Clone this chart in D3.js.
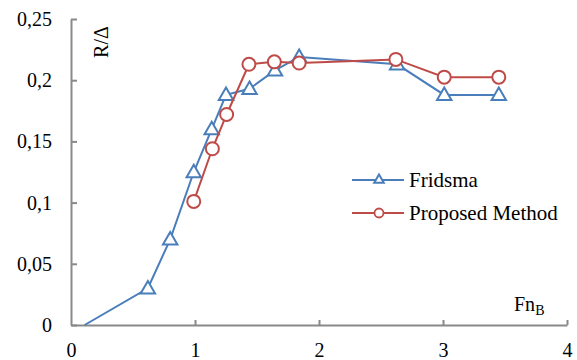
<!DOCTYPE html>
<html>
<head>
<meta charset="utf-8">
<script src="https://cdn.jsdelivr.net/npm/d3@7/dist/d3.min.js"></script>
<style>
  html, body { margin: 0; padding: 0; background: #fff; }
  svg { display: block; }
</style>
</head>
<body>
<svg id="chart" width="577" height="360" font-family="Liberation Serif"></svg>
<script>
// Resistance ratio R/Δ versus beam Froude number Fn_B
const fridsmaFn  = [0.11, 0.62, 0.80, 0.99, 1.135, 1.25, 1.44, 1.645, 1.84, 2.63, 3.01, 3.45];
const fridsmaR   = [0, 0.03, 0.07, 0.125, 0.16, 0.188, 0.193, 0.208, 0.219, 0.213, 0.188, 0.188];
const proposedFn = [0.99, 1.14, 1.255, 1.435, 1.64, 1.84, 2.62, 3.01, 3.45];
const proposedR  = [0.101, 0.144, 0.172, 0.213, 0.215, 0.214, 0.217, 0.2025, 0.2025];

const xTicks = [0, 1, 2, 3, 4];
const xTickLabels = ["0", "1", "2", "3", "4"];
const yTicks = [0, 0.05, 0.1, 0.15, 0.2, 0.25];
const yTickLabels = ["0", "0,05", "0,1", "0,15", "0,2", "0,25"];

const seriesNames = ["Fridsma", "Proposed Method"];
const seriesColors = ["#4a7ebb", "#be4b48"];

const serif = "Liberation Serif";

const svg = d3.select("#chart");
const x = d3.scaleLinear().domain([0, 4]).range([71, 567]);
const y = d3.scaleLinear().domain([0, 0.25]).range([325, 19]);

const axisColor = "#898989";

// Axes: ticks point into the plot area
const xAxis = d3.axisBottom(x)
  .tickValues(xTicks)
  .tickFormat((d, i) => xTickLabels[i])
  .tickSizeInner(-5).tickSizeOuter(0).tickPadding(18);
const gx = svg.append("g").attr("transform", `translate(0,${y(0)})`).call(xAxis);

const yAxis = d3.axisLeft(y)
  .tickValues(yTicks)
  .tickFormat((d, i) => yTickLabels[i])
  .tickSizeInner(-6).tickSizeOuter(0).tickPadding(19);
const gy = svg.append("g").attr("transform", `translate(${x(0)},0)`).call(yAxis);

[gx, gy].forEach(g => {
  g.attr("font-family", serif).attr("font-size", 20);
  g.select(".domain").attr("stroke", axisColor).attr("stroke-width", 2);
  g.selectAll(".tick line").attr("stroke", axisColor).attr("stroke-width", 2);
  g.selectAll(".tick text").attr("fill", "#000");
});
gx.selectAll(".tick").filter(d => d === 0).select("line").remove();

// Axis titles
svg.append("text")
  .attr("transform", "translate(108,42) rotate(-90)")
  .attr("text-anchor", "middle")
  .attr("font-family", serif)
  .attr("font-size", 20)
  .text("R/Δ");

const fnLabel = svg.append("text")
  .attr("x", 514).attr("y", 311)
  .attr("font-family", serif)
  .attr("font-size", 20);
fnLabel.append("tspan").text("Fn");
fnLabel.append("tspan").attr("font-size", 14).attr("dy", 4).text("B");

// Series
const line = d3.line().x(d => x(d[0])).y(d => y(d[1]));
const tri = d3.symbol().type(d3.symbolTriangle).size(90);

const fridsma = fridsmaFn.map((v, i) => [v, fridsmaR[i]]);
const proposed = proposedFn.map((v, i) => [v, proposedR[i]]);

const gF = svg.append("g");
gF.append("path").datum(fridsma)
  .attr("d", line).attr("fill", "none")
  .attr("stroke", seriesColors[0]).attr("stroke-width", 2);
gF.selectAll("path.mk").data(fridsma.filter(d => d[1] > 0)).enter().append("path")
  .attr("class", "mk")
  .attr("d", tri)
  .attr("transform", d => `translate(${x(d[0])},${y(d[1]) + 1})`)
  .attr("fill", "#fff").attr("stroke", seriesColors[0]).attr("stroke-width", 2);

const gP = svg.append("g");
gP.append("path").datum(proposed)
  .attr("d", line).attr("fill", "none")
  .attr("stroke", seriesColors[1]).attr("stroke-width", 2);
gP.selectAll("circle").data(proposed).enter().append("circle")
  .attr("cx", d => x(d[0])).attr("cy", d => y(d[1])).attr("r", 6.5)
  .attr("fill", "#fff").attr("stroke", seriesColors[1]).attr("stroke-width", 2);

// Legend
const legend = svg.append("g");
[180, 213].forEach((ly, i) => {
  legend.append("line")
    .attr("x1", 352).attr("x2", 404).attr("y1", ly).attr("y2", ly)
    .attr("stroke", seriesColors[i]).attr("stroke-width", 2);
  if (i === 0) {
    legend.append("path")
      .attr("d", d3.symbol().type(d3.symbolTriangle).size(40)())
      .attr("transform", `translate(379,${ly})`)
      .attr("fill", "#fff").attr("stroke", seriesColors[i]).attr("stroke-width", 2);
  } else {
    legend.append("circle")
      .attr("cx", 379).attr("cy", ly).attr("r", 4.5)
      .attr("fill", "#fff").attr("stroke", seriesColors[i]).attr("stroke-width", 1.8);
  }
  legend.append("text")
    .attr("x", 409).attr("y", ly).attr("dy", "0.33em")
    .attr("font-family", serif)
    .attr("font-size", 21)
    .text(seriesNames[i]);
});
</script>
</body>
</html>
